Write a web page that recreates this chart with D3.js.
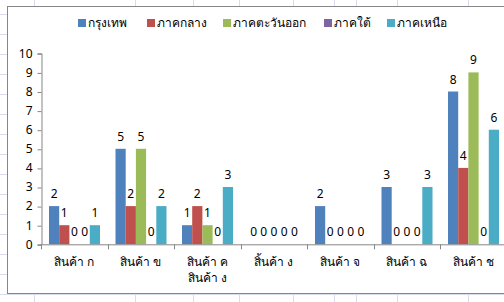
<!DOCTYPE html>
<html lang="th">
<head>
<meta charset="UTF-8">
<title>Chart</title>
<style>
    body { margin: 0; padding: 0; overflow: hidden; background: #fff; }
    svg { display: block; }
    text { font-family: Tahoma, "Noto Sans", "DejaVu Sans", sans-serif; fill: #000; }
</style>
</head>
<body>
<script src="https://d3js.org/d3.v7.min.js"></script>
<script>
const categories = ['สินค้า ก', 'สินค้า ข', 'สินค้า ค\nสินค้า ง', 'สิ้นค้า ง', 'สินค้า จ', 'สินค้า ฉ', 'สินค้า ช'];
const seriesNames = ['กรุงเทพ', 'ภาคกลาง', 'ภาคตะวันออก', 'ภาคใต้', 'ภาคเหนือ'];
const bangkok = [2, 5, 1, 0, 2, 3, 8];
const central = [1, 2, 2, 0, 0, 0, 4];
const east = [0, 5, 1, 0, 0, 0, 9];
const south = [0, 0, 0, 0, 0, 0, 0];
const north = [1, 2, 3, 0, 0, 3, 6];
const yTicks = [0, 1, 2, 3, 4, 5, 6, 7, 8, 9, 10];
const colors = ['#4f81bd', '#c0504d', '#9bbb59', '#8064a2', '#4bacc6'];

const series = [bangkok, central, east, south, north];

const width = 504, height = 302;
const svg = d3.select('body').append('svg')
    .attr('width', width)
    .attr('height', height);

// spreadsheet grid behind the chart
const gridColor = '#d8dcec';
const gridX = [34, 135, 193, 239, 293, 334, 356, 397, 468];
const gridY = d3.range(13.5, 300, 20.05);
svg.selectAll('.gx').data(gridX).enter().append('line')
    .attr('x1', d => d + 0.5).attr('x2', d => d + 0.5)
    .attr('y1', 0).attr('y2', height)
    .attr('stroke', gridColor);
svg.selectAll('.gy').data(gridY).enter().append('line')
    .attr('x1', 0).attr('x2', width)
    .attr('y1', d => Math.round(d) + 0.5).attr('y2', d => Math.round(d) + 0.5)
    .attr('stroke', gridColor);

// chart area
svg.append('rect')
    .attr('x', 7.5).attr('y', 6.5)
    .attr('width', 520).attr('height', 287)
    .attr('fill', '#fff')
    .attr('stroke', '#868686');

const plotLeft = 41, plotTop = 53.3, plotBottom = 244.3;
const catWidth = 66.5;

const x0 = d3.scaleBand()
    .domain(d3.range(categories.length))
    .range([plotLeft, plotLeft + catWidth * categories.length]);

const x1 = d3.scaleBand()
    .domain(d3.range(series.length))
    .range([8, 59]);

const y = d3.scaleLinear()
    .domain([0, 10])
    .range([plotBottom, plotTop]);

// y axis
const yAxis = svg.append('g')
    .attr('transform', `translate(${plotLeft + 0.5},0)`)
    .call(d3.axisLeft(y).tickValues(yTicks).tickSize(4).tickPadding(5).tickFormat(d3.format('d')));
yAxis.select('.domain').attr('stroke', '#868686');
yAxis.selectAll('.tick line').attr('stroke', '#868686')
    .attr('transform', 'translate(0,0.5)');
yAxis.selectAll('.tick text').attr('font-size', 12).attr('font-family', null).attr('fill', '#000');

// bars
const groups = svg.selectAll('.cat')
    .data(categories)
    .enter().append('g')
    .attr('transform', (d, i) => `translate(${x0(i)},0)`);

groups.each(function (c, ci) {
    const g = d3.select(this);
    series.forEach((s, si) => {
        const v = s[ci];
        if (v > 0) {
            g.append('rect')
                .attr('x', x1(si))
                .attr('y', y(v))
                .attr('width', x1.bandwidth())
                .attr('height', y(0) - y(v))
                .attr('fill', colors[si]);
        }
        g.append('text')
            .attr('x', x1(si) + x1.bandwidth() / 2)
            .attr('y', y(v) - 8)
            .attr('text-anchor', 'middle')
            .attr('font-size', 12)
            .text(v);
    });
});

// x axis
svg.append('line')
    .attr('x1', plotLeft).attr('x2', width)
    .attr('y1', plotBottom + 0.5).attr('y2', plotBottom + 0.5)
    .attr('stroke', '#868686');
svg.selectAll('.xtick')
    .data(d3.range(categories.length + 1))
    .enter().append('line')
    .attr('x1', d => Math.round(plotLeft + d * catWidth) + 0.5)
    .attr('x2', d => Math.round(plotLeft + d * catWidth) + 0.5)
    .attr('y1', plotBottom).attr('y2', plotBottom + 5)
    .attr('stroke', '#868686');

svg.selectAll('.xlab')
    .data(categories)
    .enter().append('text')
    .attr('x', (d, i) => x0(i) + catWidth / 2)
    .attr('y', 266)
    .attr('text-anchor', 'middle')
    .attr('font-size', 12)
    .each(function (d) {
        const t = d3.select(this);
        d.split('\n').forEach((line, k) => {
            t.append('tspan')
                .attr('x', t.attr('x'))
                .attr('dy', k === 0 ? 0 : 16)
                .text(line);
        });
    });

// legend
const legendX = [78, 147, 223, 324, 387];
const legend = svg.selectAll('.leg')
    .data(seriesNames)
    .enter().append('g')
    .attr('transform', (d, i) => `translate(${legendX[i]},19)`);
legend.append('rect')
    .attr('width', 8).attr('height', 8)
    .attr('fill', (d, i) => colors[i]);
legend.append('text')
    .attr('x', 10).attr('y', 8)
    .attr('font-size', 12)
    .text(d => d);
</script>
</body>
</html>
